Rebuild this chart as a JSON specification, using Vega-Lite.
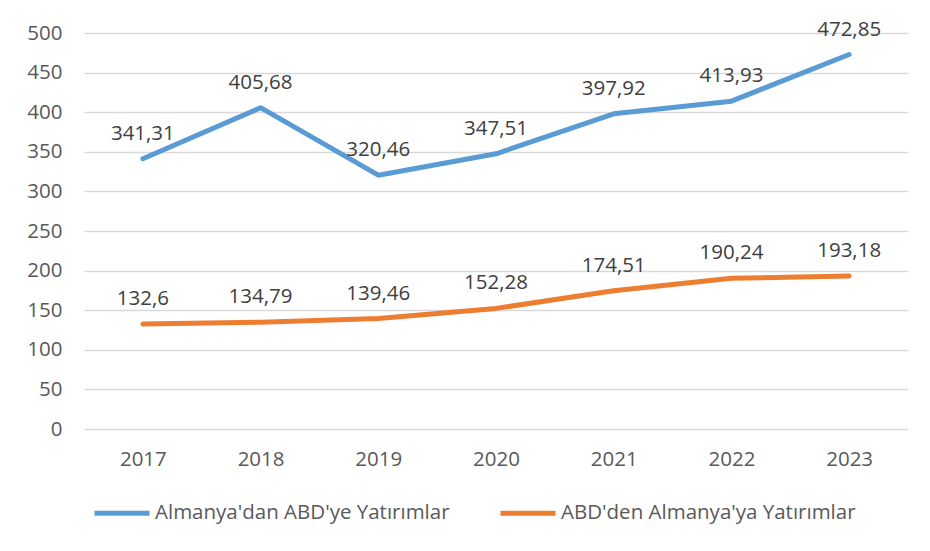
{
  "$schema": "https://vega.github.io/schema/vega-lite/v6.json",
  "autosize": {"type": "none"},
  "width": 824,
  "height": 396,
  "padding": {"left": 84, "top": 33, "right": 22, "bottom": 122},
  "background": "white",
  "config": {
    "view": {"stroke": null},
    "font": "Open Sans",
    "locale": {"number": {"decimal": ",", "thousands": ".", "grouping": [3], "currency": ["", ""]}}
  },
  "data": {
    "values": [
      {"year": "2017", "series": "Almanya'dan ABD'ye Yatırımlar", "value": 341.31},
      {"year": "2018", "series": "Almanya'dan ABD'ye Yatırımlar", "value": 405.68},
      {"year": "2019", "series": "Almanya'dan ABD'ye Yatırımlar", "value": 320.46},
      {"year": "2020", "series": "Almanya'dan ABD'ye Yatırımlar", "value": 347.51},
      {"year": "2021", "series": "Almanya'dan ABD'ye Yatırımlar", "value": 397.92},
      {"year": "2022", "series": "Almanya'dan ABD'ye Yatırımlar", "value": 413.93},
      {"year": "2023", "series": "Almanya'dan ABD'ye Yatırımlar", "value": 472.85},
      {"year": "2017", "series": "ABD'den Almanya'ya Yatırımlar", "value": 132.6},
      {"year": "2018", "series": "ABD'den Almanya'ya Yatırımlar", "value": 134.79},
      {"year": "2019", "series": "ABD'den Almanya'ya Yatırımlar", "value": 139.46},
      {"year": "2020", "series": "ABD'den Almanya'ya Yatırımlar", "value": 152.28},
      {"year": "2021", "series": "ABD'den Almanya'ya Yatırımlar", "value": 174.51},
      {"year": "2022", "series": "ABD'den Almanya'ya Yatırımlar", "value": 190.24},
      {"year": "2023", "series": "ABD'den Almanya'ya Yatırımlar", "value": 193.18}
    ]
  },
  "encoding": {
    "x": {
      "field": "year", "type": "nominal",
      "scale": {"type": "point", "padding": 0.5},
      "axis": {"title": null, "labelAngle": 0, "ticks": false, "domain": false, "labelPadding": 20, "labelFontSize": 20.5, "labelColor": "#595959", "labelFont": "Open Sans"}
    },
    "y": {
      "field": "value", "type": "quantitative",
      "scale": {"domain": [0, 500], "nice": false},
      "axis": {"title": null, "values": [0, 50, 100, 150, 200, 250, 300, 350, 400, 450, 500], "ticks": false, "domain": false, "labelPadding": 22, "labelFontSize": 20.5, "labelColor": "#595959", "labelFont": "Open Sans", "gridColor": "#d9d9d9", "gridWidth": 1.3}
    },
    "color": {
      "field": "series", "type": "nominal",
      "scale": {"domain": ["Almanya'dan ABD'ye Yatırımlar", "ABD'den Almanya'ya Yatırımlar"], "range": ["#5B9BD5", "#ED7D31"]},
      "legend": {
        "title": null, "orient": "none", "direction": "horizontal", "legendX": 8, "legendY": 450,
        "symbolType": "stroke", "symbolSize": 3025, "symbolStrokeWidth": 5,
        "labelFontSize": 20.5, "labelColor": "#595959", "labelFont": "Open Sans", "labelLimit": 500,
        "labelOffset": 3, "columnPadding": 40
      }
    }
  },
  "layer": [
    {"mark": {"type": "line", "strokeWidth": 5, "strokeCap": "round", "strokeJoin": "round"}},
    {
      "mark": {"type": "text", "baseline": "middle", "dy": -25, "fontSize": 20.5, "color": "#404040", "font": "Open Sans"},
      "encoding": {
        "text": {"field": "value", "type": "quantitative", "format": "~f"},
        "color": {"value": "#404040"}
      }
    }
  ]
}
